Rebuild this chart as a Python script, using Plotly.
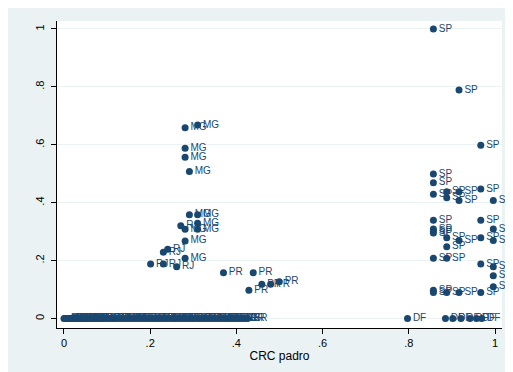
import plotly.graph_objects as go

# ---- data ----
# labelled points above zero
crc_padro = [
    # SP
    0.857, 0.9165, 0.967, 0.857, 0.857, 0.857, 0.888, 0.888, 0.9165, 0.9165,
    0.967, 0.996, 0.857, 0.967, 0.857, 0.857, 0.857, 0.996, 0.888, 0.9165,
    0.967, 0.996, 0.888, 0.857, 0.888, 0.967, 0.996, 0.996, 0.996, 0.857,
    0.857, 0.888, 0.9165, 0.967,
    # MG
    0.310, 0.281, 0.281, 0.281, 0.291, 0.291, 0.310, 0.310, 0.281, 0.310,
    0.281, 0.281,
    # RJ
    0.271, 0.2406, 0.2305, 0.201, 0.2305, 0.2614,
    # PR
    0.370, 0.439, 0.459, 0.4795, 0.4995, 0.429,
    # DF
    0.797, 0.885, 0.902, 0.921, 0.942, 0.957, 0.969,
]
valor = [
    1.0, 0.789, 0.598, 0.499, 0.469, 0.429, 0.438, 0.417, 0.438, 0.408,
    0.447, 0.408, 0.339, 0.339, 0.309, 0.302, 0.295, 0.309, 0.279, 0.269,
    0.279, 0.269, 0.248, 0.208, 0.208, 0.188, 0.179, 0.148, 0.110, 0.098,
    0.090, 0.090, 0.090, 0.090,
    0.668, 0.659, 0.588, 0.557, 0.508, 0.358, 0.358, 0.329, 0.308, 0.308,
    0.268, 0.208,
    0.320, 0.239, 0.229, 0.188, 0.188, 0.179,
    0.158, 0.158, 0.118, 0.118, 0.127, 0.098,
    0.0, 0.0, 0.0, 0.0, 0.0, 0.0, 0.0,
]
uf = ["SP"] * 34 + ["MG"] * 12 + ["RJ"] * 6 + ["PR"] * 6 + ["DF"] * 7

# dense band of points at zero
band_x = [
    0.000, 0.003, 0.007, 0.011, 0.014, 0.018, 0.022, 0.027, 0.031, 0.035,
    0.039, 0.043, 0.047, 0.052, 0.057, 0.061, 0.066, 0.072, 0.077, 0.083,
    0.088, 0.094, 0.101, 0.107, 0.113, 0.119, 0.126, 0.133, 0.139, 0.146,
    0.152, 0.159, 0.166, 0.172, 0.179, 0.186, 0.193, 0.199, 0.206, 0.213,
    0.219, 0.226, 0.233, 0.239, 0.246, 0.253, 0.259, 0.266, 0.273, 0.279,
    0.286, 0.293, 0.299, 0.306, 0.313, 0.319, 0.326, 0.333, 0.339, 0.346,
    0.353, 0.359, 0.366, 0.372, 0.379, 0.386, 0.392, 0.399, 0.405, 0.412,
    0.419, 0.426,
]
band_y = [0.0] * len(band_x)
band_uf = [
    "AC", "AL", "AM", "AP", "BA", "CE", "ES", "GO", "MA", "MT",
    "MS", "MG", "MG", "MG", "PA", "PB", "PE", "PI", "RN", "RO",
    "RS", "SC", "SE", "TO", "BA", "CE", "GO", "MA", "MT", "MS",
    "PA", "PB", "PE", "PI", "RN", "RO", "RS", "SC", "SE", "TO",
    "BA", "CE", "GO", "MA", "MT", "MS", "PA", "PB", "PE", "PI",
    "RN", "RO", "RS", "SC", "SE", "TO", "BA", "CE", "GO", "MA",
    "MT", "MS", "PA", "PB", "PE", "PI", "RN", "RO", "SC", "RS",
    "RR", "RR",
]

x_ticks = [0, 0.2, 0.4, 0.6, 0.8, 1]
x_ticktext = ["0", ".2", ".4", ".6", ".8", "1"]
y_ticks = [0, 0.2, 0.4, 0.6, 0.8, 1]
y_ticktext = ["0", ".2", ".4", ".6", ".8", "1"]

NAVY = "#1a476f"
BG = "#eaf2f3"
FONT = "Arial, Liberation Sans, sans-serif"

fig = go.Figure()
fig.add_trace(go.Scatter(
    x=band_x, y=band_y, text=band_uf, mode="markers+text",
    textposition="middle right",
    marker=dict(color=NAVY, size=7),
    textfont=dict(color=NAVY, size=10, family=FONT),
    cliponaxis=False, showlegend=False,
))
fig.add_trace(go.Scatter(
    x=crc_padro, y=valor, text=uf, mode="markers+text",
    textposition="middle right",
    marker=dict(color=NAVY, size=7),
    textfont=dict(color=NAVY, size=10, family=FONT),
    cliponaxis=False, showlegend=False,
))

fig.update_layout(
    width=505, height=364,
    margin=dict(l=49, r=11, t=13, b=44),
    paper_bgcolor=BG, plot_bgcolor="white",
    font=dict(family=FONT, color="black"),
    xaxis=dict(
        range=[-0.0162, 1.0162],
        tickvals=x_ticks, ticktext=x_ticktext,
        ticks="outside", ticklen=5, tickcolor="black",
        showline=True, linecolor="black", linewidth=1,
        showgrid=False, zeroline=False,
        tickfont=dict(size=11, color="black"),
        title=dict(text="CRC padro", font=dict(size=12, color="black"), standoff=3),
    ),
    yaxis=dict(
        range=[-0.0328, 1.0276],
        tickvals=y_ticks, ticktext=y_ticktext,
        ticks="outside", ticklen=5, tickcolor="black",
        tickangle=-90, ticklabelstandoff=3,
        showline=True, linecolor="black", linewidth=1,
        showgrid=True, gridcolor=BG, gridwidth=1, zeroline=False,
        tickfont=dict(size=11, color="black"),
    ),
)

fig.write_html("out.html")
